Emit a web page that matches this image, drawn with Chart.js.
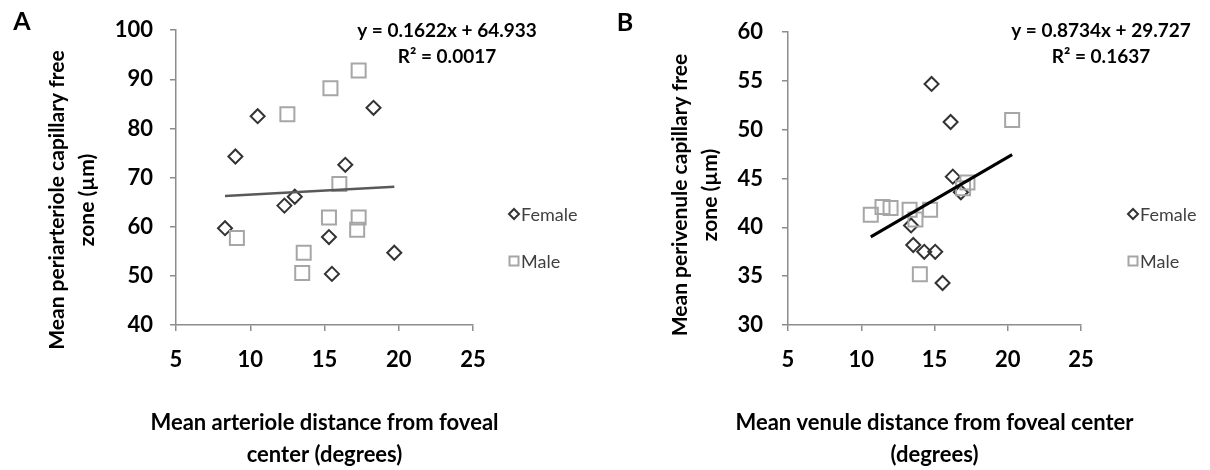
<!DOCTYPE html>
<html><head><meta charset="utf-8">
<script src="https://cdn.jsdelivr.net/npm/chart.js@4/dist/chart.umd.min.js"></script>
<style>
body{margin:0;background:#fff;width:1210px;height:470px;overflow:hidden}
.p{position:absolute;top:0;width:605px;height:470px}
</style></head><body>
<div class="p" style="left:0"><canvas id="a"></canvas></div>
<div class="p" style="left:605px"><canvas id="b"></canvas></div>
<script>
// Panel A data (arteriole)
const femaleA_x = [10.5, 9.0, 18.3, 16.4, 13.0, 12.3, 8.3, 15.3, 19.7, 15.5];
const femaleA_y = [82.5, 74.3, 84.2, 72.6, 66.1, 64.3, 59.7, 57.9, 54.7, 50.4];
const maleA_x   = [17.3, 15.4, 12.5, 16.0, 15.3, 17.3, 17.2, 9.1, 13.6, 13.5];
const maleA_y   = [91.8, 88.2, 82.9, 68.7, 61.9, 61.9, 59.4, 57.7, 54.7, 50.6];
const trendA = {slope: 0.1622, intercept: 64.933, eq: 'y = 0.1622x + 64.933', r2: 'R² = 0.0017'};

// Panel B data (venule)
const femaleB_x = [14.8, 16.1, 16.25, 16.8, 13.4, 13.55, 14.3, 15.05, 15.55];
const femaleB_y = [54.7, 50.8, 45.2, 43.6, 40.2, 38.2, 37.5, 37.5, 34.3];
const maleB_x   = [20.3, 17.25, 16.95, 10.65, 11.45, 12.0, 13.3, 14.7, 13.7, 14.0];
const maleB_y   = [51.0, 44.6, 44.0, 41.3, 42.1, 42.0, 41.8, 41.8, 40.8, 35.2];
const trendB = {slope: 0.8734, intercept: 29.727, eq: 'y = 0.8734x + 29.727', r2: 'R² = 0.1637'};

const xTicks = [5, 10, 15, 20, 25];
const yTicksA = [40, 50, 60, 70, 80, 90, 100];
const yTicksB = [30, 35, 40, 45, 50, 55, 60];

const FONT = 'Lato, "Open Sans", sans-serif';

function pts(xs, ys){ return xs.map((x,i)=>({x, y: ys[i]})); }
function trendPts(t, xsAll){
  const lo = Math.min(...xsAll), hi = Math.max(...xsAll);
  return [{x: lo, y: t.slope*lo + t.intercept}, {x: hi, y: t.slope*hi + t.intercept}];
}

function annotPlugin(o){
  return {
    id: 'annot',
    afterDraw(chart){
      const ctx = chart.ctx, ca = chart.chartArea;
      ctx.save();
      ctx.fillStyle = '#000';
      ctx.textAlign = 'center'; ctx.textBaseline = 'middle';
      // panel letter
      ctx.font = 'bold 25px ' + FONT;
      ctx.fillText(o.letter, o.letterX, o.letterY);
      // axis titles
      ctx.font = 'bold 22px ' + FONT;
      const cx = (ca.left + ca.right) / 2;
      ctx.fillText(o.xTitle[0], cx, 423);
      ctx.fillText(o.xTitle[1], cx, 455);
      ctx.font = 'bold 21px ' + FONT;
      o.yTitle.forEach((t, i) => {
        ctx.save();
        ctx.translate(o.yTitleX + i * 30, o.yTitleY);
        ctx.rotate(-Math.PI / 2);
        ctx.fillText(t, 0, 0);
        ctx.restore();
      });
      // equation
      ctx.font = 'bold 19px ' + FONT;
      ctx.fillText(o.trend.eq, o.eqX, 31);
      ctx.fillText(o.trend.r2, o.eqX, 57);
      // legend
      const lx = o.legX;
      ctx.lineWidth = 2;
      ctx.strokeStyle = '#333';
      ctx.beginPath();
      ctx.moveTo(lx, 214-5); ctx.lineTo(lx+5, 214); ctx.lineTo(lx, 214+5); ctx.lineTo(lx-5, 214); ctx.closePath();
      ctx.stroke();
      ctx.strokeStyle = '#a6a6a6';
      ctx.strokeRect(lx-4.5, 261-4.5, 9, 9);
      ctx.fillStyle = '#404040';
      ctx.font = '18px ' + FONT;
      ctx.textAlign = 'left';
      ctx.fillText('Female', lx + 7, 215);
      ctx.fillText('Male', lx + 7, 262);
      ctx.restore();
    }
  };
}

function makeChart(id, fx, fy, mx, my, trend, yMin, yMax, yTicks, lay, ann, lineColor, lineW){
  return new Chart(document.getElementById(id), {
    type: 'scatter',
    data: {
      datasets: [
        {type: 'line', data: trendPts(trend, fx.concat(mx)), borderColor: lineColor, borderWidth: lineW, pointRadius: 0, fill: false, order: 0},
        {data: pts(mx, my), pointStyle: 'rect', pointRadius: 9.9, pointHoverRadius: 9.9, borderColor: '#a6a6a6', backgroundColor: 'rgba(255,255,255,0)', borderWidth: 2, order: 1},
        {data: pts(fx, fy), pointStyle: 'rectRot', pointRadius: 7, pointHoverRadius: 7, borderColor: '#333333', backgroundColor: 'rgba(255,255,255,0)', borderWidth: 2, order: 2}
      ]
    },
    options: {
      responsive: true, maintainAspectRatio: false, animation: false, devicePixelRatio: 1,
      layout: {padding: {left: 0, top: 21, right: lay.right, bottom: 0}},
      plugins: {legend: {display: false}, tooltip: {enabled: false}},
      events: [],
      scales: {
        x: {
          type: 'linear', min: 5, max: 25,
          afterBuildTicks: s => { s.ticks = xTicks.map(v => ({value: v})); },
          afterFit: s => { s.height = 145; },
          border: {display: true, color: '#8c8c8c', width: 1.5},
          grid: {display: true, drawOnChartArea: false, drawTicks: true, tickLength: 6, color: '#8c8c8c', lineWidth: 1.5},
          ticks: {color: '#000', font: {family: FONT, size: 22, weight: 'bold'}, padding: 16},
          title: {display: false}
        },
        y: {
          type: 'linear', min: yMin, max: yMax,
          afterBuildTicks: s => { s.ticks = yTicks.map(v => ({value: v})); },
          afterFit: s => { s.width = lay.yWidth; },
          border: {display: true, color: '#8c8c8c', width: 1.5},
          grid: {display: true, drawOnChartArea: false, drawTicks: true, tickLength: 6, color: '#8c8c8c', lineWidth: 1.5},
          ticks: {color: '#000', font: {family: FONT, size: 22, weight: 'bold'}, padding: lay.yPad},
          title: {display: false}
        }
      }
    },
    plugins: [annotPlugin(ann)]
  });
}

makeChart('a', femaleA_x, femaleA_y, maleA_x, maleA_y, trendA, 40, 100, yTicksA,
  {right: 132, yWidth: 176, yPad: 17},
  {letter: 'A', letterX: 22, letterY: 22, trend: trendA, eqX: 447, legX: 514,
   xTitle: ['Mean arteriole distance from foveal', 'center (degrees)'],
   yTitle: ['Mean periarteriole capillary free', 'zone (µm)'], yTitleX: 57, yTitleY: 200},
  '#595959', 2.5);

makeChart('b', femaleB_x, femaleB_y, maleB_x, maleB_y, trendB, 30, 60, yTicksB,
  {right: 129, yWidth: 183, yPad: 19},
  {letter: 'B', letterX: 20, letterY: 23, trend: trendB, eqX: 496, legX: 528,
   xTitle: ['Mean venule distance from foveal center', '(degrees)'],
   yTitle: ['Mean perivenule capillary free', 'zone (µm)'], yTitleX: 75, yTitleY: 195},
  '#000000', 3);
</script>
</body></html>
